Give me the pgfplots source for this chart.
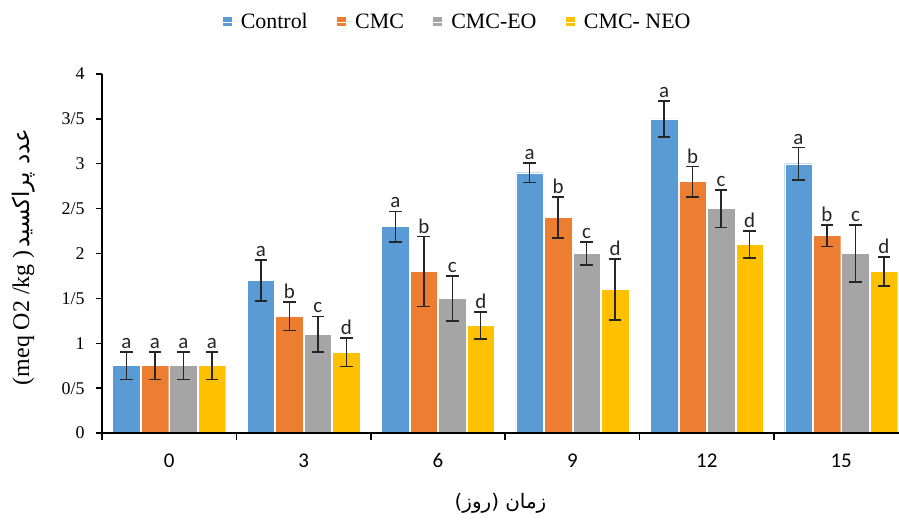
\documentclass[border=0pt]{standalone}
\usepackage{fontspec}
\setmainfont{Liberation Serif}
\newfontfamily\arabicfont[Script=Arabic]{DejaVu Sans}
\newfontfamily\calfont{Carlito}
\usepackage{pgfplots}
\usepackage{pgfplotstable}
\pgfplotsset{compat=1.18}
\TeXXeTstate=1
\definecolor{c1}{HTML}{5B9BD5}
\definecolor{c2}{HTML}{ED7D31}
\definecolor{c3}{HTML}{A5A5A5}
\definecolor{c4}{HTML}{FFC000}
\pgfplotstableread{
x ctl ctle cmc cmce eo eoe neo neoe la lb lc ld
0 0.75 0.155 0.75 0.155 0.75 0.155 0.75 0.155 a a a a
1 1.70 0.23 1.30 0.16 1.10 0.20 0.90 0.16 a b c d
2 2.30 0.17 1.80 0.39 1.50 0.25 1.20 0.15 a b c d
3 2.90 0.11 2.40 0.23 2.00 0.13 1.60 0.34 a b c d
4 3.50 0.20 2.80 0.17 2.50 0.21 2.10 0.15 a b c d
5 3.00 0.18 2.20 0.12 2.00 0.32 1.80 0.16 a b c d
}\data
\begin{document}
\begin{tikzpicture}
\begin{axis}[
  scale only axis, width=797bp, height=359bp,
  xmin=-0.5, xmax=5.43, ymin=0, ymax=4,
  axis lines*=left, axis on top,
  axis line style={black, line width=1.5bp},
  xtick={0,...,5}, xticklabels={0,3,6,9,12,15},
  major x tick style={draw=none},
  minor xtick={-0.5,0.5,1.5,2.5,3.5,4.5},
  minor x tick style={black, line width=1.5bp},
  minor tick length=7bp,
  ytick={0,0.5,...,4}, yticklabels={0,0/5,1,1/5,2,2/5,3,3/5,4},
  major y tick style={black, line width=1.3bp},
  major tick length=6bp,
  tick align=outside,
  /pgf/number format/assume math mode=true,
  yticklabel style={font=\fontsize{18}{18}\selectfont, xshift=-8bp},
  xticklabel style={font=\calfont\fontsize{21}{21}\selectfont, anchor=center, yshift=-22bp},
  xlabel={\arabicfont\fontsize{20}{20}\selectfont\beginR زمان (روز)\endR},
  xlabel style={at={(axis description cs:0.5,0)}, anchor=center, yshift=-70bp},
  ylabel={{\fontsize{24}{24}\selectfont(meq O2 /kg )} {\arabicfont\fontsize{23}{23}\selectfont\beginR عدد پراکسید\endR}},
  ylabel style={at={(axis description cs:-0.099,0.49)}, anchor=center},
  legend style={at={(axis description cs:0.446,1.145)}, anchor=center, draw=none,
    font=\fontsize{22}{24}\selectfont, inner sep=0pt,
    /tikz/every even column/.append style={column sep=27bp}},
  legend columns=4,
  legend image code/.code={\path[#1,draw=none] (0bp,-4.5bp) rectangle (9bp,4.5bp); \path (0bp,0bp) -- (16bp,0bp);},
  error bars/error bar style={line width=1.5bp, color=black!85},
  error bars/error mark options={rotate=90, mark size=6.3bp, line width=1.5bp, color=black!85},
  nodes near coords style={font=\calfont\fontsize{21}{21}\selectfont, anchor=south, inner sep=1bp, yshift=2bp, text=black!85},
]
\addplot[ybar, bar width=0.205, bar shift=0, fill=c1, draw=white, line width=0.4bp,
  error bars/.cd, y dir=both, y explicit] table[x expr=\thisrow{x}-0.318, y=ctl, y error=ctle]{\data};
\addlegendentry{Control}
\addplot[ybar, bar width=0.205, bar shift=0, fill=c2, draw=white, line width=0.4bp,
  error bars/.cd, y dir=both, y explicit] table[x expr=\thisrow{x}-0.106, y=cmc, y error=cmce]{\data};
\addlegendentry{CMC}
\addplot[ybar, bar width=0.205, bar shift=0, fill=c3, draw=white, line width=0.4bp,
  error bars/.cd, y dir=both, y explicit] table[x expr=\thisrow{x}+0.106, y=eo, y error=eoe]{\data};
\addlegendentry{CMC-EO}
\addplot[ybar, bar width=0.205, bar shift=0, fill=c4, draw=white, line width=0.4bp,
  error bars/.cd, y dir=both, y explicit] table[x expr=\thisrow{x}+0.318, y=neo, y error=neoe]{\data};
\addlegendentry{CMC- NEO}
\addplot[forget plot, only marks, mark=*, mark size=0pt, mark options={draw=none,fill=none},
  nodes near coords, point meta=explicit symbolic]
  table[x expr=\thisrow{x}-0.318, y expr=\thisrow{ctl}+\thisrow{ctle}, meta=la]{\data};
\addplot[forget plot, only marks, mark=*, mark size=0pt, mark options={draw=none,fill=none},
  nodes near coords, point meta=explicit symbolic]
  table[x expr=\thisrow{x}-0.106, y expr=\thisrow{cmc}+\thisrow{cmce}, meta=lb]{\data};
\addplot[forget plot, only marks, mark=*, mark size=0pt, mark options={draw=none,fill=none},
  nodes near coords, point meta=explicit symbolic]
  table[x expr=\thisrow{x}+0.106, y expr=\thisrow{eo}+\thisrow{eoe}, meta=lc]{\data};
\addplot[forget plot, only marks, mark=*, mark size=0pt, mark options={draw=none,fill=none},
  nodes near coords, point meta=explicit symbolic]
  table[x expr=\thisrow{x}+0.318, y expr=\thisrow{neo}+\thisrow{neoe}, meta=ld]{\data};
\end{axis}
\pgfresetboundingbox
\path[use as bounding box] ([xshift=-102bp,yshift=-89bp]current axis.south west) rectangle ([yshift=74bp]current axis.north east);
\end{tikzpicture}
\end{document}
